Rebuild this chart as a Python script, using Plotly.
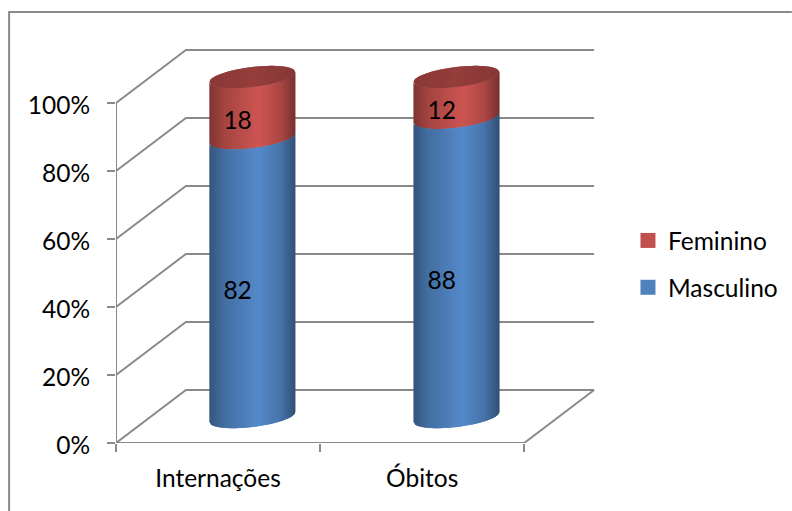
import numpy as np
import plotly.graph_objects as go

# Chart data
categories = ["Internações", "Óbitos"]
masculino = [82, 88]
feminino = [18, 12]
percent_ticks = [0, 20, 40, 60, 80, 100]
percent_labels = ["0%", "20%", "40%", "60%", "80%", "100%"]

# Page layout, in pixels
W, H = 792, 511
LEFT, FLOOR_Y, TOP, RIGHT = 115.5, 443, 20, 600
CAT_PX = 204.3      # width of one category on the front plane
PCT_PX = 3.4        # height of one percentage point
DEPTH_X = 70 / CAT_PX   # oblique depth offset, in axis units
DEPTH_Y = 53 / PCT_PX

# Cylinder proportions
BAR_DEPTH = 0.49
LABEL_DEPTH = 0.28
LABEL_DROP = 1.35   # value labels sit slightly below the segment middle
RADIUS = 43 / CAT_PX
MINOR = 10 / PCT_PX
TILT = 5 / PCT_PX
STRIPS = 60
BLUE = (79, 129, 189)
RED = (192, 80, 77)
GRID = "#8a8a8a"
FONT = "Lato"
FONT_SIZE = 24.5


def project(cat, pct, depth=0.0):
    """Oblique projection of a (category, percent, depth) point onto the axes."""
    return cat + depth * DEPTH_X, pct + depth * DEPTH_Y


def body_shade(u):
    return np.interp(u, [-1, -0.65, 0.15, 0.65, 1], [0.66, 0.86, 1.07, 0.9, 0.62])


def lid_shade(u):
    return np.interp(u, [-1, 0, 1], [0.72, 0.78, 0.7])


def tinted(rgb, f):
    return "rgb({},{},{})".format(*[int(min(255, c * f)) for c in rgb])


def polygon(xs, ys, color):
    return go.Scatter(
        x=xs, y=ys, mode="lines", fill="toself", fillcolor=color,
        line=dict(color=color, width=0), hoverinfo="skip", showlegend=False,
    )


def strip_edges():
    """Left and right ends of each strip; every strip runs under the next one."""
    edges = np.linspace(-1, 1, STRIPS + 1)
    return zip(edges[:-1], np.minimum(edges[1:] + 2 / STRIPS, 1))


def body_segment(cx, low, high, rgb):
    """Shaded side of one stacked cylinder segment, built from narrow strips."""
    traces = []
    for a, b in strip_edges():
        u = np.linspace(a, b, 4)
        xs = cx + RADIUS * u
        front = TILT * u - MINOR * np.sqrt(1 - u ** 2)
        px = np.r_[xs, xs[::-1], xs[0]]
        py = np.r_[low + front, (high + front)[::-1], low + front[0]]
        traces.append(polygon(px, py, tinted(rgb, body_shade(a + 1 / STRIPS))))
    return traces


def lid(cx, level, rgb):
    traces = []
    for a, b in strip_edges():
        u = np.linspace(a, b, 4)
        xs = cx + RADIUS * u
        half = MINOR * np.sqrt(1 - u ** 2)
        lower = level + TILT * u - half
        upper = level + TILT * u + half
        px = np.r_[xs, xs[::-1], xs[0]]
        py = np.r_[lower, upper[::-1], lower[0]]
        traces.append(polygon(px, py, tinted(rgb, lid_shade(a + 1 / STRIPS))))
    return traces


fig = go.Figure()
n_cat = len(categories)

# Walls and floor: each gridline runs from the front plane to the back wall
wall_x, wall_y = [], []
for p in percent_ticks:
    x0, y0 = project(0, p)
    x1, y1 = project(0, p, 1)
    x2, y2 = project(n_cat, p, 1)
    wall_x += [x0, x1, x2, None]
    wall_y += [y0, y1, y2, None]
for seg in ([(0, 0, 0), (n_cat, 0, 0), (n_cat, 0, 1)],
            [(0, 0, 0), (0, 100, 0)]):
    for c, p, d in seg:
        x, y = project(c, p, d)
        wall_x.append(x)
        wall_y.append(y)
    wall_x.append(None)
    wall_y.append(None)
fig.add_trace(go.Scatter(
    x=wall_x, y=wall_y, mode="lines", line=dict(color=GRID, width=2),
    hoverinfo="skip", showlegend=False,
))

# Stacked cylinders
for i in range(n_cat):
    cx, base = project(i + 0.5, 0, BAR_DEPTH)
    split = base + masculino[i]
    top = split + feminino[i]
    for tr in body_segment(cx, split, top, RED):
        fig.add_trace(tr)
    for tr in body_segment(cx, base, split, BLUE):
        fig.add_trace(tr)
    for tr in lid(cx, top, RED):
        fig.add_trace(tr)

# Value labels, placed in the middle of each segment
lx, ly, lt = [], [], []
for i in range(n_cat):
    x, y = project(i + 0.5, masculino[i] / 2 - LABEL_DROP, LABEL_DEPTH)
    lx.append(x); ly.append(y); lt.append(str(masculino[i]))
    x, y = project(i + 0.5, masculino[i] + feminino[i] / 2 - LABEL_DROP, LABEL_DEPTH)
    lx.append(x); ly.append(y); lt.append(str(feminino[i]))
fig.add_trace(go.Scatter(
    x=lx, y=ly, text=lt, mode="text", textposition="middle center",
    textfont=dict(family=FONT, size=FONT_SIZE, color="black"),
    hoverinfo="skip", showlegend=False,
))

# Legend entries
for name, rgb in (("Feminino", RED), ("Masculino", BLUE)):
    fig.add_trace(go.Scatter(
        x=[None], y=[None], mode="markers", name=name, legendgroup=name,
        marker=dict(symbol="square", size=15, color=tinted(rgb, 1)),
    ))

plot_w = W - LEFT - (W - RIGHT)
plot_h = FLOOR_Y - TOP
paper_x = lambda px: (px - LEFT) / plot_w
paper_y = lambda py: (FLOOR_Y - py) / plot_h

fig.update_layout(
    width=W, height=H, autosize=False,
    margin=dict(l=LEFT, r=W - RIGHT, t=TOP, b=H - FLOOR_Y, pad=0, autoexpand=False),
    paper_bgcolor="white", plot_bgcolor="white",
    font=dict(family=FONT, size=FONT_SIZE, color="black"),
    xaxis=dict(
        range=[0, plot_w / CAT_PX], showgrid=False, zeroline=False, showline=False,
        tickmode="array", tickvals=[i + 0.5 for i in range(n_cat)], ticktext=categories,
        ticks="", ticklabelstandoff=18, fixedrange=True,
        minor=dict(tickmode="array", tickvals=list(range(n_cat + 1)), ticks="outside",
                   ticklen=8, tickwidth=2, tickcolor=GRID, showgrid=False),
    ),
    yaxis=dict(
        range=[0, plot_h / PCT_PX], showgrid=False, zeroline=False, showline=False,
        tickmode="array", tickvals=percent_ticks, ticktext=percent_labels,
        ticks="outside", ticklen=8, tickwidth=2, tickcolor=GRID, ticklabelstandoff=12,
        ticklabelshift=2, fixedrange=True,
    ),
    legend=dict(
        x=paper_x(628), y=paper_y(218), xanchor="left", yanchor="top",
        tracegroupgap=12, traceorder="grouped", bgcolor="rgba(0,0,0,0)",
        font=dict(family=FONT, size=FONT_SIZE, color="black"),
    ),
    shapes=[dict(
        type="path", xref="paper", yref="paper", layer="above",
        path="M {} {} L {} {} L {} {}".format(
            paper_x(8.5), paper_y(H), paper_x(8.5), paper_y(12), paper_x(W), paper_y(12)),
        line=dict(color=GRID, width=2),
    )],
)

fig.write_html("out.html")
